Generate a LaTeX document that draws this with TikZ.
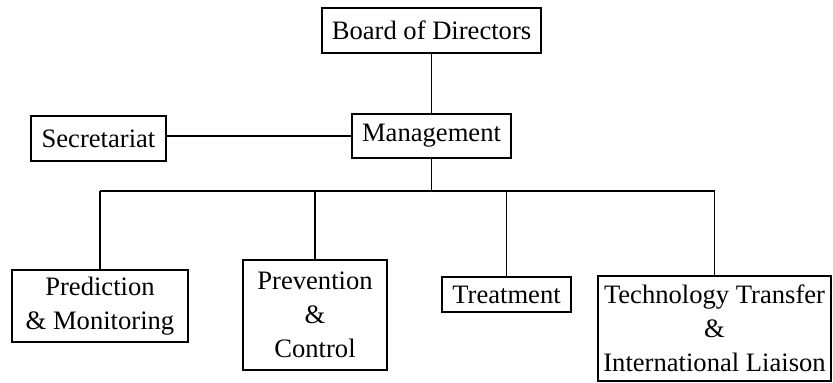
\documentclass[tikz,border=0pt]{standalone}
\usepackage{fontspec}
\setmainfont{Liberation Serif}
\usetikzlibrary{positioning}

\begin{document}
\begin{tikzpicture}[
  x=0.5pt, y=-0.5pt,
  every node/.style={font=\fontsize{13.3}{17}\selectfont},
  unit/.style={draw, line width=0.7pt, align=center, inner sep=0pt},
  link/.style={line width=0.7pt}
]
\useasboundingbox (0,0) rectangle (833,383);

\node[unit, minimum width=109.5pt, minimum height=22.5pt] (board) at (431.5,30.5) {Board of Directors};
\node[unit, minimum width=79.5pt, minimum height=22pt] (mgmt) at (431.5,136) {Management};
\node[unit, minimum width=67.5pt, minimum height=22.5pt] (secr) at (98.5,138.5) {Secretariat};

\node[unit, minimum width=88pt, minimum height=36pt] (pred) at (100,306) {Prediction\\\& Monitoring};
\node[unit, minimum width=72pt, minimum height=55pt] (prev) at (315,315) {Prevention\\\&\\Control};
\node[unit, minimum width=64.5pt, minimum height=17.5pt] (treat) at (506.5,294.5) {Treatment};
\node[unit, minimum width=116.5pt, minimum height=52.5pt] (tech) at (714.5,328.5) {Technology Transfer\\\&\\International Liaison};

\coordinate (bus) at (431.5,191);

\draw[link] (board) -- (mgmt);
\draw[link] (mgmt.west) -- (mgmt.west -| secr.east);
\draw[link] (mgmt) -- (bus);
\draw[link] (pred.north |- bus) -- (tech.north |- bus);
\foreach \n in {pred,prev,treat,tech}
  \draw[link] (\n.north) -- (\n.north |- bus);
\end{tikzpicture}
\end{document}
